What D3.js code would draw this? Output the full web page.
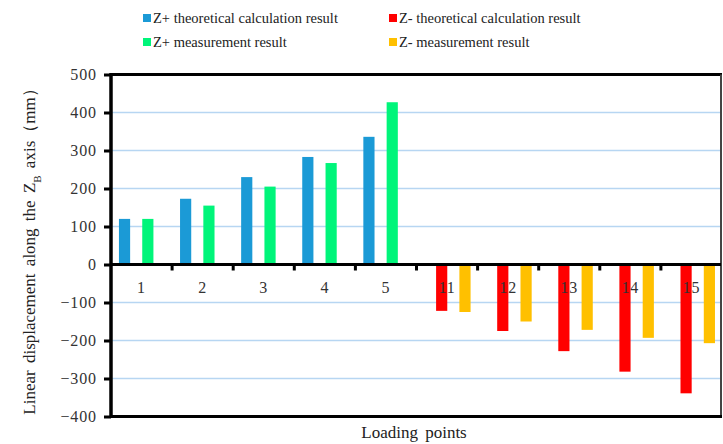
<!DOCTYPE html>
<html>
<head>
<meta charset="utf-8">
<script src="https://cdn.jsdelivr.net/npm/d3@7"></script>
<style>
  body { margin: 0; background: #fff; }
</style>
</head>
<body>
<div id="chart"></div>
<script>
const categories = ['1', '2', '3', '4', '5', '11', '12', '13', '14', '15'];
const seriesNames = [
  'Z+ theoretical calculation result',
  'Z- theoretical calculation result',
  'Z+ measurement result',
  'Z- measurement result'
];
const seriesColors = ['#1b9ad6', '#ff0000', '#00f57a', '#ffc000'];
const zPlusTheory = [120, 173, 230, 283, 336, null, null, null, null, null];
const zMinusTheory = [null, null, null, null, null, -122, -175, -228, -282, -339];
const zPlusMeasured = [120, 155, 205, 267, 427, null, null, null, null, null];
const zMinusMeasured = [null, null, null, null, null, -125, -150, -172, -193, -207];
const yTicks = [-400, -300, -200, -100, 0, 100, 200, 300, 400, 500];

const seriesValues = [zPlusTheory, zMinusTheory, zPlusMeasured, zMinusMeasured];

const width = 723, height = 444;
const plotLeft = 111, plotRight = 722, plotTop = 74.5, plotBottom = 416.5;
const serif = "'Liberation Serif', 'Times New Roman', Times, serif";

const svg = d3.select('#chart').append('svg')
  .attr('width', width)
  .attr('height', height)
  .attr('font-family', serif);

const x0 = d3.scaleBand()
  .domain(categories)
  .range([plotLeft, plotRight])
  .padding(0);

const x1 = d3.scaleBand()
  .domain(d3.range(seriesNames.length))
  .range([x0.bandwidth() * 0.13, x0.bandwidth() * 0.885])
  .paddingInner(0.04);

const y = d3.scaleLinear()
  .domain([-400, 500])
  .range([plotBottom, plotTop]);

// gridlines
svg.append('g')
  .selectAll('line')
  .data(yTicks.filter(t => t !== 0 && t !== 500 && t !== -400))
  .enter().append('line')
  .attr('x1', plotLeft)
  .attr('x2', 721)
  .attr('y1', d => y(d))
  .attr('y2', d => y(d))
  .attr('stroke', '#b7d6f2')
  .attr('stroke-width', 1.5);

// bars
const rows = [];
seriesValues.forEach((vals, s) => {
  vals.forEach((v, i) => {
    if (v !== null) rows.push({ s, cat: categories[i], v });
  });
});

svg.append('g')
  .selectAll('rect')
  .data(rows)
  .enter().append('rect')
  .attr('x', d => x0(d.cat) + x1(d.s))
  .attr('y', d => y(Math.max(0, d.v)))
  .attr('width', x1.bandwidth())
  .attr('height', d => Math.abs(y(d.v) - y(0)))
  .attr('fill', d => seriesColors[d.s]);

// frame
svg.append('line').attr('x1', plotLeft).attr('x2', 722).attr('y1', plotTop).attr('y2', plotTop)
  .attr('stroke', '#000').attr('stroke-width', 3);
svg.append('line').attr('x1', 721).attr('x2', 721).attr('y1', plotTop).attr('y2', plotBottom)
  .attr('stroke', '#444').attr('stroke-width', 2);
svg.append('line').attr('x1', plotLeft).attr('x2', 722).attr('y1', plotBottom).attr('y2', plotBottom)
  .attr('stroke', '#000').attr('stroke-width', 3);

// y axis
const yAxis = svg.append('g')
  .attr('transform', `translate(${plotLeft},0)`)
  .call(d3.axisLeft(y).tickValues(yTicks).tickSize(7).tickPadding(7).tickFormat(d3.format('d')))
  .attr('font-family', serif)
  .attr('font-size', null);
yAxis.select('.domain').attr('stroke', '#000').attr('stroke-width', 3.5)
  .attr('d', `M0,${plotTop - 1.5}V${plotBottom + 1.5}`);
yAxis.selectAll('.tick line').attr('stroke', '#000').attr('stroke-width', 3);
yAxis.selectAll('.tick text')
  .style('font-family', serif)
  .style('font-size', '16px')
  .style('letter-spacing', '0.9px')
  .attr('fill', '#333');

// zero line with category ticks
const xAxis = svg.append('g')
  .attr('transform', `translate(0,${y(0)})`);
xAxis.append('line')
  .attr('x1', plotLeft).attr('x2', 721)
  .attr('stroke', '#000').attr('stroke-width', 3);
xAxis.selectAll('.cut')
  .data(categories.slice(1))
  .enter().append('line')
  .attr('class', 'cut')
  .attr('x1', d => x0(d)).attr('x2', d => x0(d))
  .attr('y1', 0).attr('y2', 6)
  .attr('stroke', '#000').attr('stroke-width', 3);
xAxis.selectAll('.cat')
  .data(categories)
  .enter().append('text')
  .attr('class', 'cat')
  .attr('x', d => x0(d) + x0.bandwidth() / 2)
  .attr('y', 28)
  .attr('text-anchor', 'middle')
  .style('font-family', serif)
  .style('font-size', '16px')
  .style('letter-spacing', '0.9px')
  .attr('fill', '#333')
  .text(d => d);

// axis titles
svg.append('text')
  .attr('x', 414)
  .attr('y', 438)
  .attr('text-anchor', 'middle')
  .style('font-family', serif)
  .style('font-size', '17px')
  .style('word-spacing', '3px')
  .attr('fill', '#222')
  .text('Loading points');

const yTitle = svg.append('text')
  .attr('transform', `translate(35,${(plotTop + plotBottom) / 2 + 2}) rotate(-90)`)
  .attr('text-anchor', 'middle')
  .style('font-family', serif)
  .style('font-size', '17px')
  .style('word-spacing', '3px')
  .attr('fill', '#222');
yTitle.append('tspan').text('Linear displacement along the Z');
yTitle.append('tspan').attr('baseline-shift', 'sub').style('font-size', '11px').text('B');
yTitle.append('tspan').text(' axis（mm）');

// legend
const legendPos = [[143, 14], [389, 14], [143, 38], [389, 38]];
const legend = svg.append('g')
  .selectAll('g')
  .data(seriesNames)
  .enter().append('g')
  .attr('transform', (d, i) => `translate(${legendPos[i][0]},${legendPos[i][1]})`);
legend.append('rect')
  .attr('width', 8)
  .attr('height', 8)
  .attr('fill', (d, i) => seriesColors[i]);
legend.append('text')
  .attr('x', 10)
  .attr('y', 9)
  .style('font-family', serif)
  .style('font-size', '14.5px')
  .attr('fill', '#222')
  .text(d => d);
</script>
</body>
</html>
